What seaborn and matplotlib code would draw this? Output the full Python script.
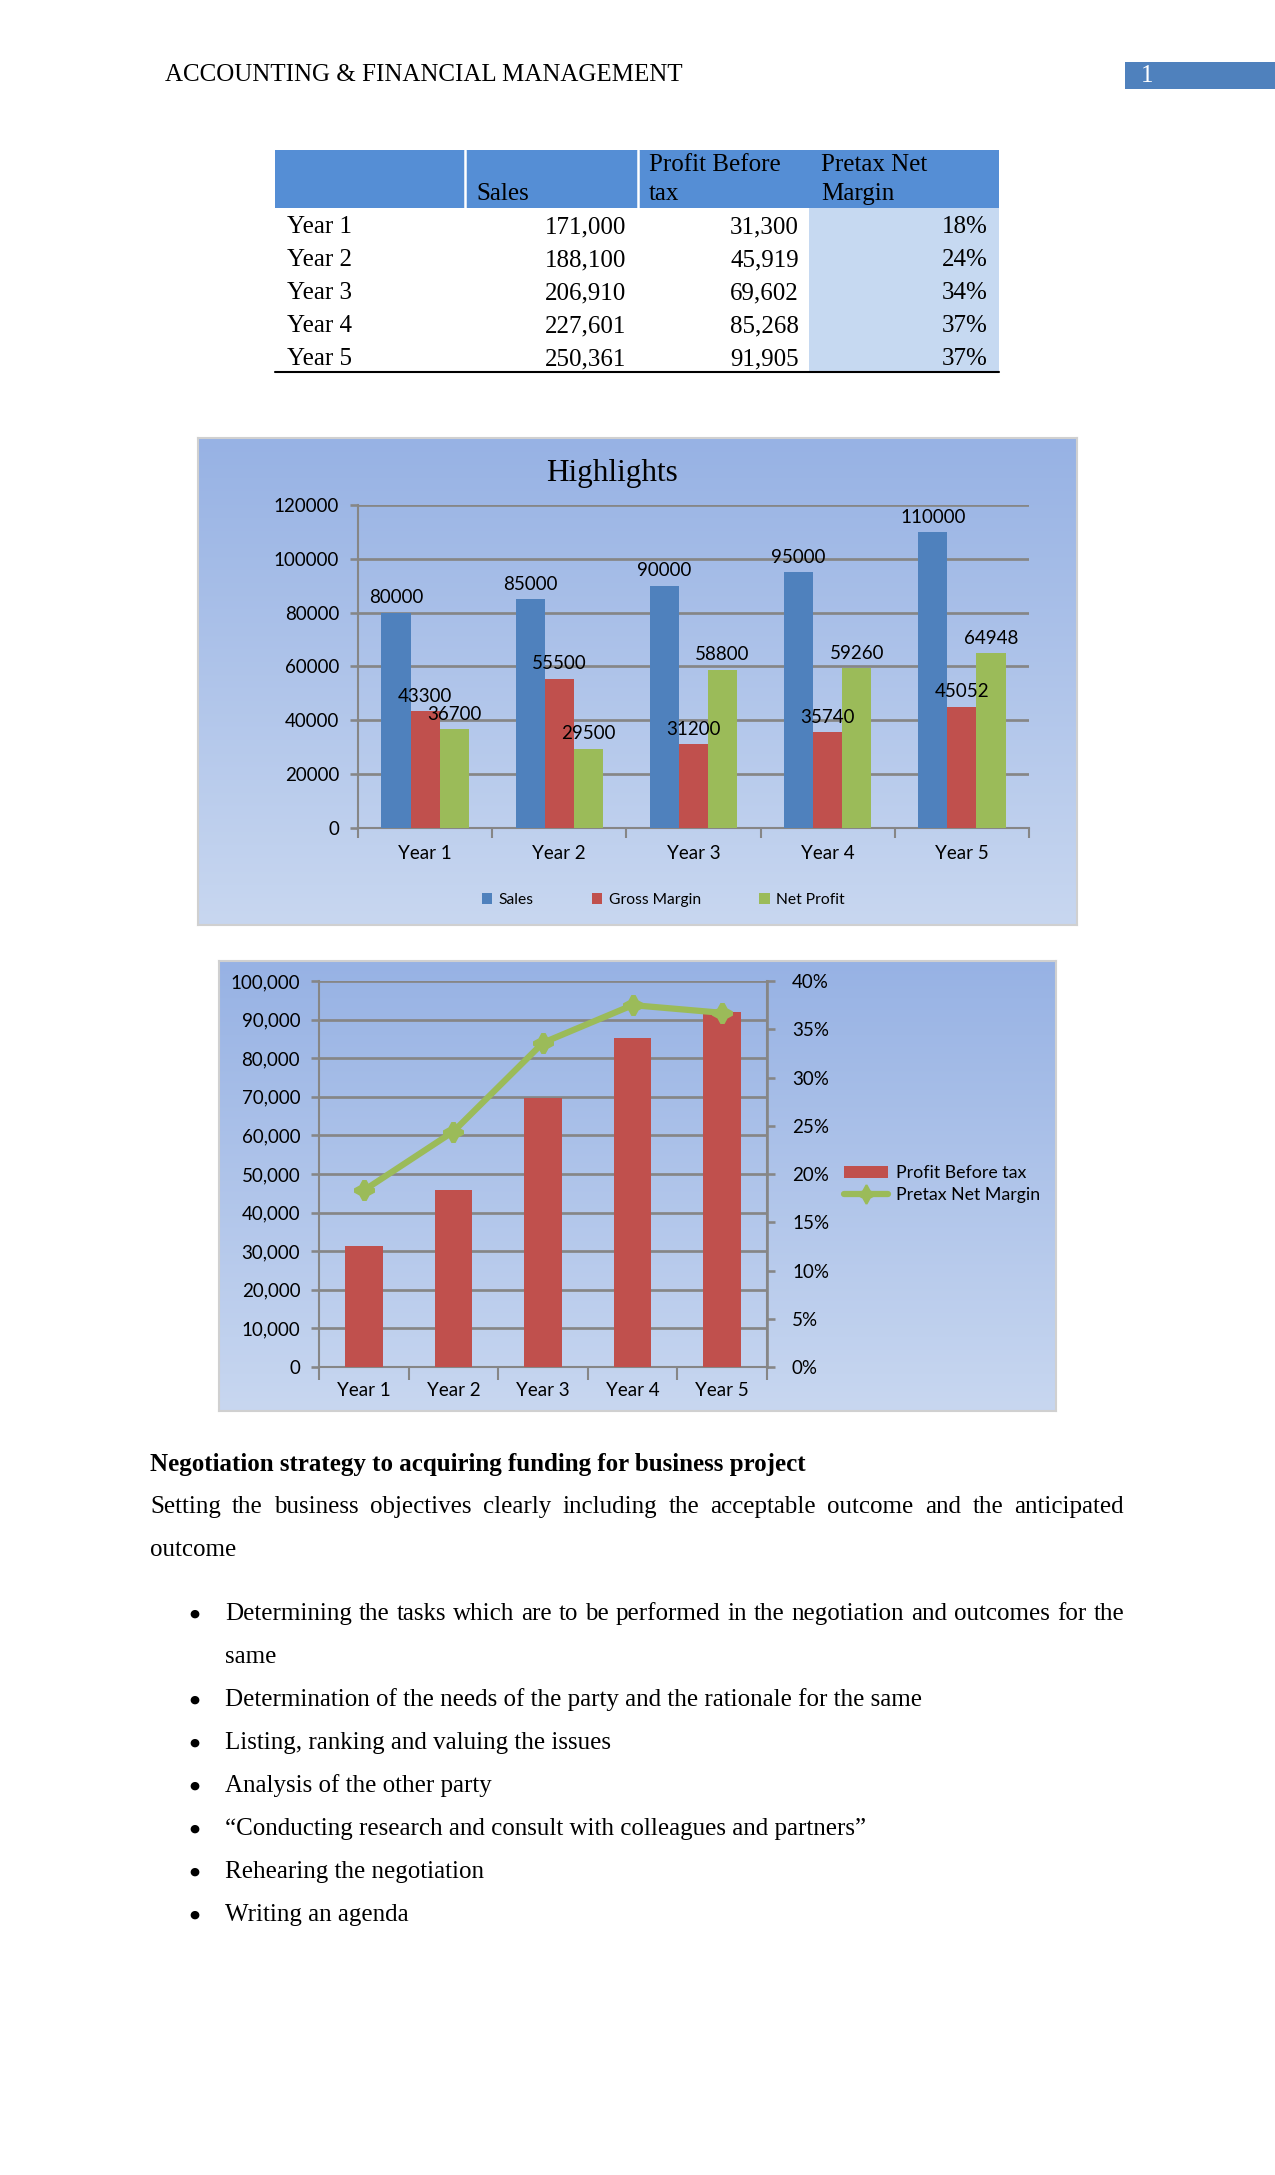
import numpy as np
import pandas as pd
import matplotlib
matplotlib.use("Agg")
import matplotlib.pyplot as plt
import seaborn as sns
from matplotlib.patches import Rectangle, Patch
from matplotlib.lines import Line2D
from matplotlib.ticker import FuncFormatter, FixedLocator
from matplotlib.colors import LinearSegmentedColormap

# ---------------- data ----------------
years = ["Year 1", "Year 2", "Year 3", "Year 4", "Year 5"]
table_sales = ["171,000", "188,100", "206,910", "227,601", "250,361"]
table_pbt = ["31,300", "45,919", "69,602", "85,268", "91,905"]
table_margin = ["18%", "24%", "34%", "37%", "37%"]

series_names = ["Sales", "Gross Margin", "Net Profit"]
hl_sales = [80000, 85000, 90000, 95000, 110000]
hl_gross = [43300, 55500, 31200, 35740, 45052]
hl_net = [36700, 29500, 58800, 59260, 64948]

pbt_values = [31300, 45919, 69602, 85268, 91905]
margin_values = [0.183, 0.244, 0.336, 0.375, 0.367]

heading = "Negotiation strategy to acquiring funding for business project"
para_line1 = "Setting the business objectives clearly including the acceptable outcome and the anticipated"
para_line2 = "outcome"
bullets = [
    ("Determining the tasks which are to be performed in the negotiation and outcomes for the", True),
    ("same", False),
    ("Determination of the needs of the party and the rationale for the same", False),
    ("Listing, ranking and valuing the issues", False),
    ("Analysis of the other party", False),
    ("\u201cConducting research and consult with colleagues and partners\u201d", False),
    ("Rehearing the negotiation", False),
    ("Writing an agenda", False),
]

# ---------------- setup ----------------
W, H, DPI = 1275, 2175, 150
sns.set_theme(style="white")
plt.rcParams["font.family"] = ["Liberation Serif", "DejaVu Sans"]
plt.rcParams["text.color"] = "black"
plt.rcParams["axes.labelcolor"] = "black"
plt.rcParams["xtick.color"] = "black"
plt.rcParams["ytick.color"] = "black"
SERIF = ["Liberation Serif", "DejaVu Serif"]
SANS = ["Lato", "DejaVu Sans"]

BLUE = "#4F81BD"
RED = "#C0504D"
GREEN = "#9BBB59"
GRID = "#868686"

fig = plt.figure(figsize=(W / DPI, H / DPI), dpi=DPI)
fig.patch.set_facecolor("white")


def fx(x):
    return x / W


def fy(y):
    return 1 - y / H


def box(l, t, r, b):
    return [l / W, 1 - b / H, (r - l) / W, (b - t) / H]


def rect(l, t, r, b, **kw):
    fig.add_artist(Rectangle((fx(l), fy(b)), (r - l) / W, (b - t) / H,
                             transform=fig.transFigure, **kw))


# ---------------- page header ----------------
fig.text(fx(165), fy(75), "ACCOUNTING & FINANCIAL MANAGEMENT", fontsize=12,
         family=SERIF, ha="left", va="center")
rect(1125, 62, 1275, 89, facecolor=BLUE, edgecolor="none")
fig.text(fx(1141), fy(76), "1", fontsize=12, family=SERIF, color="white",
         ha="left", va="center")

# ---------------- table ----------------
rect(275, 150, 999, 208, facecolor="#558ED5", edgecolor="none")
rect(809, 208, 999, 372, facecolor="#C6D9F1", edgecolor="none")
for xs in (465, 638):
    fig.add_artist(Line2D([fx(xs), fx(xs)], [fy(150), fy(208)], color="white",
                          lw=1.2, transform=fig.transFigure))
fig.add_artist(Line2D([fx(275), fx(999)], [fy(372), fy(372)], color="black",
                      lw=1.0, transform=fig.transFigure))
fig.text(fx(476), fy(194), "Sales", fontsize=12, family=SERIF, va="center")
fig.text(fx(649), fy(165), "Profit Before", fontsize=12, family=SERIF, va="center")
fig.text(fx(649), fy(194), "tax", fontsize=12, family=SERIF, va="center")
fig.text(fx(821), fy(165), "Pretax Net", fontsize=12, family=SERIF, va="center")
fig.text(fx(821), fy(194), "Margin", fontsize=12, family=SERIF, va="center")
row_y = [227, 260, 293, 326, 359]
for i, y in enumerate(row_y):
    fig.text(fx(287), fy(y), years[i], fontsize=12, family=SERIF, va="center")
    fig.text(fx(626), fy(y), table_sales[i], fontsize=12, family=SERIF, va="center", ha="right")
    fig.text(fx(799), fy(y), table_pbt[i], fontsize=12, family=SERIF, va="center", ha="right")
    fig.text(fx(988), fy(y), table_margin[i], fontsize=12, family=SERIF, va="center", ha="right")


# ---------------- chart backgrounds ----------------
def gradient_bg(l, t, r, b):
    axb = fig.add_axes(box(l, t, r, b), zorder=0)
    cmap = LinearSegmentedColormap.from_list("bg", ["#97B2E4", "#C8D7F0"])
    grad = np.linspace(0, 1, 256)[:, None]
    axb.imshow(grad, aspect="auto", cmap=cmap, extent=[0, 1, 0, 1], origin="upper")
    axb.set_xlim(0, 1)
    axb.set_ylim(0, 1)
    axb.set_xticks([])
    axb.set_yticks([])
    for s in axb.spines.values():
        s.set_color("#D0D0D0")
        s.set_linewidth(1.0)
    return axb


gradient_bg(198, 438, 1077, 925)
gradient_bg(219, 961, 1056, 1411)

# ---------------- chart 1: Highlights ----------------
ax1 = fig.add_axes(box(358, 505, 1029, 828), zorder=2)
ax1.patch.set_alpha(0)
df1 = pd.DataFrame({
    "Year": years * 3,
    "Series": [series_names[0]] * 5 + [series_names[1]] * 5 + [series_names[2]] * 5,
    "Value": hl_sales + hl_gross + hl_net,
})
sns.barplot(data=df1, x="Year", y="Value", hue="Series", hue_order=series_names,
            palette=[BLUE, RED, GREEN], saturation=1, width=0.65, ax=ax1,
            legend=False, errorbar=None, zorder=3, linewidth=0, edgecolor="none")
ax1.set_xlim(-0.5, 4.5)
ax1.set_ylim(0, 120000)
ax1.yaxis.set_major_locator(FixedLocator(list(range(0, 120001, 20000))))
ax1.yaxis.grid(True, color=GRID, lw=1.3, zorder=0)
ax1.set_axisbelow(True)
ax1.set_xlabel("")
ax1.set_ylabel("")
for s in ("top", "right"):
    ax1.spines[s].set_visible(False)
for s in ("left", "bottom"):
    ax1.spines[s].set_color(GRID)
    ax1.spines[s].set_linewidth(1.0)
ax1.tick_params(axis="y", which="major", direction="out", length=4, color=GRID,
                pad=5, labelsize=9, left=True, labelcolor="black")
ax1.set_xticks(range(5))
ax1.set_xticklabels(years)
ax1.tick_params(axis="x", which="major", length=0, pad=8, labelsize=9, labelcolor="black")
ax1.xaxis.set_minor_locator(FixedLocator([-0.5, 0.5, 1.5, 2.5, 3.5, 4.5]))
ax1.tick_params(axis="x", which="minor", direction="out", length=5, color=GRID, bottom=True)
for lab in ax1.get_xticklabels() + ax1.get_yticklabels():
    lab.set_fontfamily(SANS)
for cont in ax1.containers:
    labs = ax1.bar_label(cont, fmt="%d", padding=3, fontsize=9, color="black")
    for t in labs:
        t.set_fontfamily(SANS)

fig.text(fx(612), fy(473), "Highlights", fontsize=15, family=SERIF,
         ha="center", va="center")
fig.legend(handles=[Patch(facecolor=c, edgecolor="none") for c in (BLUE, RED, GREEN)],
           labels=series_names, loc="center", bbox_to_anchor=(fx(663), fy(900)),
           ncol=3, frameon=False, handlelength=0.7, handleheight=0.7,
           columnspacing=3.7, handletextpad=0.4,
           prop={"family": SANS, "size": 7.5})

# ---------------- chart 2: Profit Before tax & Margin ----------------
ax2 = fig.add_axes(box(319, 981, 767, 1367), zorder=2)
ax2.patch.set_alpha(0)
sns.barplot(x=years, y=pbt_values, color=RED, saturation=1, width=0.42, ax=ax2,
            errorbar=None, zorder=3, linewidth=0, edgecolor="none")
ax2.set_ylim(0, 100000)
ax2.yaxis.set_major_locator(FixedLocator(list(range(0, 100001, 10000))))
ax2.yaxis.set_major_formatter(FuncFormatter(lambda v, p: f"{v:,.0f}"))
ax2.yaxis.grid(True, color=GRID, lw=1.3, zorder=0)
ax2.set_axisbelow(True)
ax2.spines["top"].set_visible(False)
for s in ("left", "bottom", "right"):
    ax2.spines[s].set_color(GRID)
    ax2.spines[s].set_linewidth(1.0)
ax2.tick_params(axis="y", which="major", direction="out", length=4, color=GRID,
                pad=5, labelsize=9, left=True, labelcolor="black")

ax3 = ax2.twinx()
ax3.set_zorder(3)
ax3.patch.set_alpha(0)
sns.pointplot(x=years, y=margin_values, ax=ax3, color=GREEN, markers="D",
              errorbar=None, markersize=5, linewidth=3)
for ln in ax3.lines:
    ln.set_marker((4, 1, 0))
    ln.set_markersize(9)
    ln.set_linewidth(3)
ax3.set_ylim(0, 0.40)
ax3.yaxis.set_major_locator(FixedLocator([i * 0.05 for i in range(9)]))
ax3.yaxis.set_major_formatter(FuncFormatter(lambda v, p: f"{v:.0%}"))
ax3.tick_params(axis="y", which="major", direction="out", length=4, color=GRID,
                pad=8, labelsize=9, right=True, labelcolor="black")
ax3.set_ylabel("")
for s in ("top", "left", "bottom"):
    ax3.spines[s].set_visible(False)
ax3.spines["right"].set_color(GRID)

ax2.set_xlim(-0.5, 4.5)
ax2.set_xticks(range(5))
ax2.set_xticklabels(years)
ax2.set_xlabel("")
ax2.set_ylabel("")
ax2.tick_params(axis="x", which="major", length=0, pad=7, labelsize=9, labelcolor="black")
ax2.xaxis.set_minor_locator(FixedLocator([-0.5, 0.5, 1.5, 2.5, 3.5, 4.5]))
ax2.tick_params(axis="x", which="minor", direction="out", length=6, color=GRID, bottom=True)
for lab in ax2.get_xticklabels() + ax2.get_yticklabels() + ax3.get_yticklabels():
    lab.set_fontfamily(SANS)

fig.legend(handles=[Patch(facecolor=RED, edgecolor="none"),
                    Line2D([], [], color=GREEN, lw=3, marker=(4, 1, 0), markersize=9)],
           labels=["Profit Before tax", "Pretax Net Margin"], loc="center left",
           bbox_to_anchor=(fx(828), fy(1184)), frameon=False, handlelength=2.5,
           handletextpad=0.45, labelspacing=0.35,
           prop={"family": SANS, "size": 8.5})

# ---------------- body text ----------------
renderer = fig.canvas.get_renderer()


def justify(text, x0, x1, y, **kw):
    words = text.split()
    objs = [fig.text(fx(x0), fy(y), w, ha="left", va="center", **kw) for w in words]
    widths = [o.get_window_extent(renderer).width for o in objs]
    gap = (x1 - x0 - sum(widths)) / max(len(words) - 1, 1)
    x = x0
    for o, w in zip(objs, widths):
        o.set_x(fx(x))
        x += w + gap


fig.text(fx(150), fy(1464), heading, fontsize=12, family=SERIF, fontweight="bold",
         ha="left", va="center")
justify(para_line1, 150, 1124, 1507, fontsize=12, family=SERIF)
fig.text(fx(150), fy(1550), para_line2, fontsize=12, family=SERIF, ha="left", va="center")

by = [1614, 1657, 1700, 1743, 1786, 1829, 1872, 1915]
for (txt, just), y in zip(bullets, by):
    if txt != "same":
        fig.text(fx(189), fy(y), "\u25CF", fontsize=5.5, family=["DejaVu Sans"],
                 ha="left", va="center")
    if just:
        justify(txt, 225, 1124, y, fontsize=12, family=SERIF)
    else:
        fig.text(fx(225), fy(y), txt, fontsize=12, family=SERIF, ha="left", va="center")

fig.savefig("out.png", dpi=DPI, facecolor="white")
